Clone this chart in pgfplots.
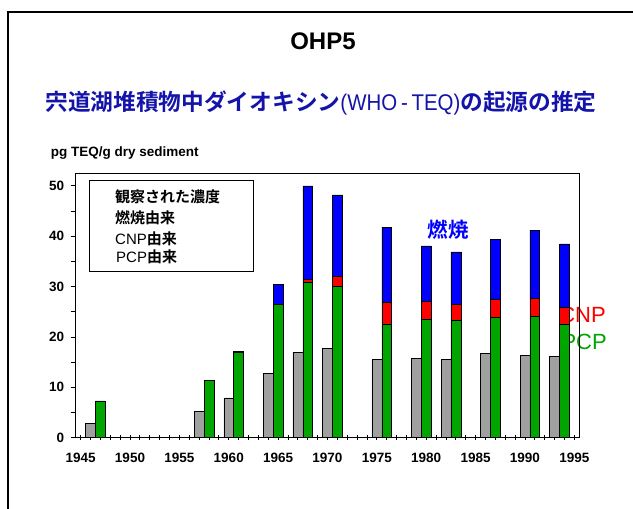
\documentclass[border=0pt]{standalone}
\usepackage{fontspec}
\setmainfont{Liberation Sans}
\newfontfamily\cjk{Noto Sans CJK JP}[BoldFont={Noto Sans CJK JP Bold}]
\newfontfamily\narrowfont{Liberation Sans}[FakeStretch=0.9]
\usepackage{pgfplots}
\usepackage{pgfplotstable}
\pgfplotsset{compat=1.18}
\definecolor{titleblue}{RGB}{20,20,170}
\definecolor{obsgrey}{RGB}{160,160,160}
\definecolor{pcpgreen}{RGB}{0,165,0}
\definecolor{cnpred}{RGB}{255,0,0}
\definecolor{combblue}{RGB}{0,0,255}

\pgfplotstableread{
year obs
1946 2.9
1957 5.2
1960 7.9
1964 12.8
1967 17.0
1970 17.75
1975 15.5
1979 15.7
1982 15.5
1986 16.75
1990 16.4
1993 16.2
}\obsdata

\pgfplotstableread{
year pcp cnp comb
1947 7.3 0 0
1958 11.3 0 0
1961 16.95 0 0.2
1965 26.4 0 4.1
1968 30.9 0.6 18.5
1971 30.1 2.0 16.1
1976 22.6 4.2 15.0
1980 23.6 3.4 11.1
1983 23.4 3.0 10.5
1987 23.9 3.5 11.9
1991 24.2 3.5 13.5
1994 22.6 3.3 12.6
}\srcdata

\pgfplotsset{myaxis/.style={
  scale only axis, width=503.6pt, height=264.4pt,
  at={(75.7pt,-437.7pt)}, anchor=south west,
  xmin=1944.5, xmax=1995.5, ymin=0, ymax=52.5}}

\begin{document}
\begin{tikzpicture}
\useasboundingbox (0,0) rectangle (633pt,-509pt);
\fill[white] (0,0) rectangle (633pt,-509pt);
\draw[line width=2pt] (640pt,-12pt) -- (8pt,-12pt) -- (8pt,-515pt);
\node[anchor=base, inner sep=0pt, font=\bfseries\fontsize{24}{28}\selectfont] at (323pt,-49.3pt) {OHP5};
\node[inner sep=0pt, font=\fontsize{22.7}{26}\selectfont, text=titleblue] at (321pt,-103pt)
  {{\cjk\bfseries 宍道湖堆積物中ダイオキシン}{\narrowfont (WHO\,-\,TEQ)}{\cjk\bfseries の起源の推定}};
\node[anchor=base west, inner sep=0pt, font=\bfseries\fontsize{13.5}{16}\selectfont] at (50.7pt,-156pt) {pg TEQ/g dry sediment};
\node[anchor=east, inner sep=0pt, text=cnpred, font=\fontsize{22}{24}\selectfont] at (606pt,-315.3pt) {CNP};
\node[anchor=east, inner sep=0pt, text=pcpgreen, font=\fontsize{22}{24}\selectfont] at (607pt,-342pt) {PCP};

\begin{axis}[myaxis, ybar, bar width=1, bar shift=0,
  xtick={1945,1950,...,1995}, minor x tick num=4,
  ytick={0,10,...,50}, minor y tick num=1,
  xtick pos=bottom, ytick pos=left,
  xtick align=center, ytick align=outside,
  major tick length=5pt, minor tick length=5pt,
  tick style={black, line width=0.8pt},
  axis line style={line width=0.8pt},
  tick label style={font=\bfseries\fontsize{13.5}{16}\selectfont},
  /pgf/number format/assume math mode=true,
  /pgf/number format/1000 sep={},
  xticklabel style={yshift=-9pt},
  yticklabel style={xshift=-3pt},
]
\addplot[fill=obsgrey, draw=black, line width=0.6pt] table[x=year,y=obs]{\obsdata};
\end{axis}

\begin{axis}[myaxis, hide axis, ybar stacked, bar width=1]
\addplot[fill=pcpgreen, draw=black, line width=0.6pt] table[x=year,y=pcp]{\srcdata};
\addplot[fill=cnpred, draw=black, line width=0.6pt] table[x=year,y=cnp]{\srcdata};
\addplot[fill=combblue, draw=black, line width=0.6pt] table[x=year,y=comb]{\srcdata};
\draw[line width=1.5pt] (rel axis cs:0,1) -- (rel axis cs:0,0) -- (rel axis cs:1,0);
\end{axis}

\node[inner sep=0pt, text=combblue, font=\cjk\bfseries\fontsize{20.5}{22}\selectfont] at (448pt,-230pt) {燃焼};

\draw[fill=white, line width=0.8pt] (89pt,-180pt) rectangle (253.3pt,-271.7pt);
\begin{scope}[every node/.style={anchor=west, inner sep=0pt, font=\fontsize{15}{17}\selectfont}]
\node at (115pt,-196.7pt) {\cjk\bfseries 観察された濃度};
\node at (115pt,-218pt) {\cjk\bfseries 燃焼由来};
\node at (115pt,-238.3pt) {CNP{\cjk\bfseries 由来}};
\node at (116pt,-256.7pt) {PCP{\cjk\bfseries 由来}};
\end{scope}
\end{tikzpicture}
\end{document}
